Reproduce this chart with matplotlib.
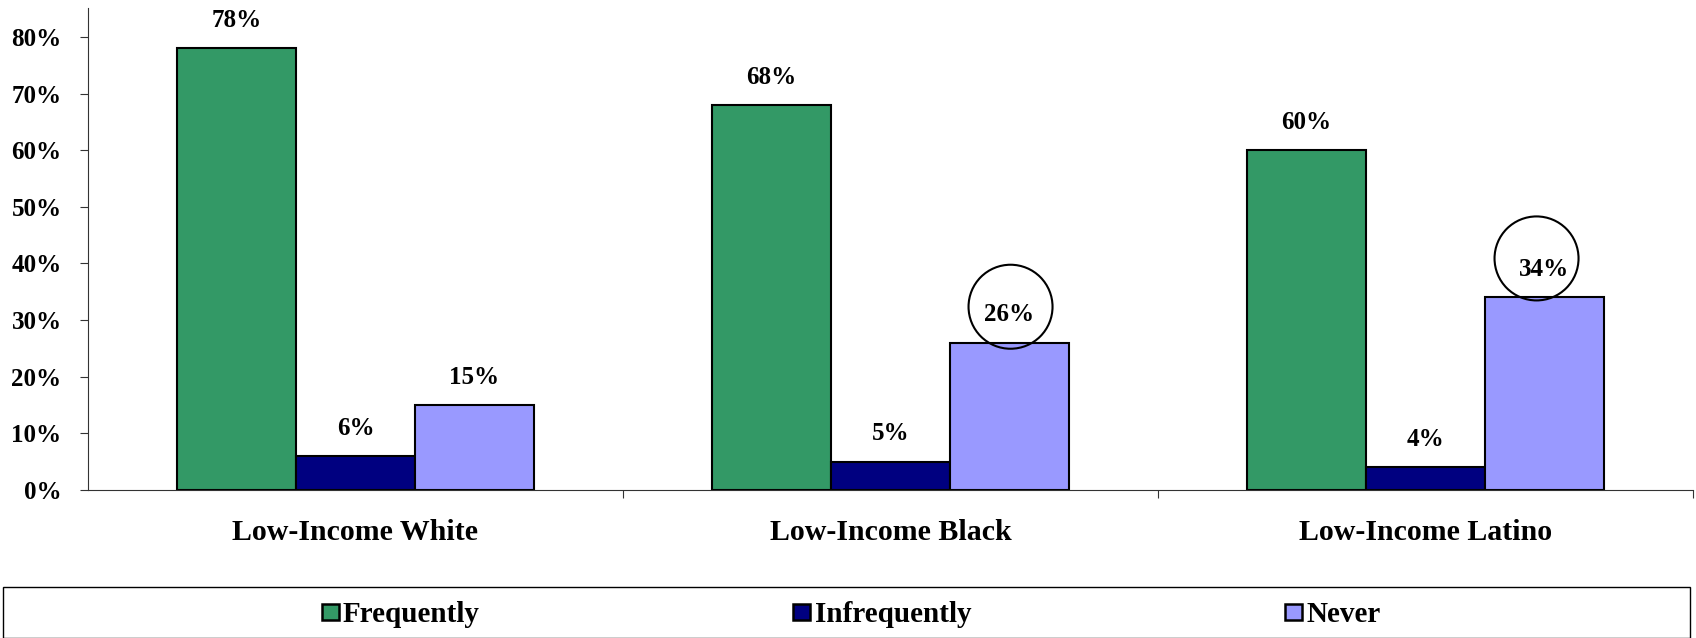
import matplotlib
matplotlib.use("Agg")
import matplotlib.pyplot as plt
from matplotlib.patches import Circle, Rectangle, Patch
from matplotlib.transforms import ScaledTranslation
import numpy as np

categories = ["Low-Income White", "Low-Income Black", "Low-Income Latino"]
series_names = ["Frequently", "Infrequently", "Never"]
frequently = [78, 68, 60]
infrequently = [6, 5, 4]
never = [15, 26, 34]
series_values = [frequently, infrequently, never]
colors = ["#339966", "#000080", "#9999FF"]
y_ticks = [0, 10, 20, 30, 40, 50, 60, 70, 80]
circled = [(1, 26, 0.01, 0.36), (2, 34, -0.08, 0.39)]  # (category, value, dx in, dy in)

plt.rcParams["font.family"] = ["Liberation Serif", "DejaVu Serif"]
plt.rcParams["font.weight"] = "bold"

fig = plt.figure(figsize=(16.96, 6.38), dpi=100)
ax = fig.add_axes([88 / 1696, 1 - 490 / 638, (1693 - 88) / 1696, (490 - 8) / 638])

x = np.arange(len(categories))
width = 0.2225
for i, (name, vals, c) in enumerate(zip(series_names, series_values, colors)):
    bars = ax.bar(x + (i - 1) * width, vals, width, color=c, edgecolor="black",
                  linewidth=1.5, label=name, zorder=2)
    for rect, v in zip(bars, vals):
        ax.annotate(f"{v}%", (rect.get_x() + rect.get_width() / 2, v),
                    xytext=(0, 20), textcoords="offset points",
                    ha="center", va="center", fontsize=18, fontweight="bold",
                    zorder=4)

# Circle highlights around selected "Never" values
for cat, v, dx, dy in circled:
    xc = x[cat] + width
    trans = fig.dpi_scale_trans + ScaledTranslation(xc, v, ax.transData)
    circ = Circle((dx, dy), 0.42, transform=trans, facecolor="none",
                  edgecolor="black", linewidth=1.5, clip_on=False, zorder=5)
    ax.add_artist(circ)

ax.set_xlim(-0.5, 2.5)
ax.set_ylim(0, 85.1)
ax.set_yticks(y_ticks)
ax.set_yticklabels([f"{t}%" for t in y_ticks])
ax.tick_params(axis="y", length=6, width=0.8, pad=13, labelsize=18,
               color="#333333", direction="out")
ax.set_xticks([0.5, 1.5, 2.5])
ax.set_xticklabels([])
ax.tick_params(axis="x", which="major", length=6, width=0.8, color="#333333")
ax.set_xticks(x, minor=True)
ax.set_xticklabels(categories, minor=True)
ax.tick_params(axis="x", which="minor", length=0, pad=21, labelsize=21.5)
for lab in ax.get_xticklabels(minor=True) + ax.get_yticklabels():
    lab.set_fontweight("bold")

for s in ["top", "right"]:
    ax.spines[s].set_visible(False)
for s in ["left", "bottom"]:
    ax.spines[s].set_color("#333333")
    ax.spines[s].set_linewidth(0.8)

# Legend frame spanning the figure width
fig.patches.append(Rectangle((3 / 1696, 0), (1690 - 3) / 1696, (638 - 587) / 638,
                             transform=fig.transFigure, facecolor="white",
                             edgecolor="black", linewidth=1.0))
handles = [Patch(facecolor=c, edgecolor="black", linewidth=1.8) for c in colors]
fig.legend(handles, series_names, loc="center", bbox_to_anchor=(851 / 1696, 1 - 615 / 638),
           ncol=3, frameon=False, handlelength=0.58, handleheight=0.5,
           handletextpad=0.15, columnspacing=10.75, borderpad=0,
           prop={"weight": "bold", "size": 21})

fig.savefig("out.png", dpi=100)
